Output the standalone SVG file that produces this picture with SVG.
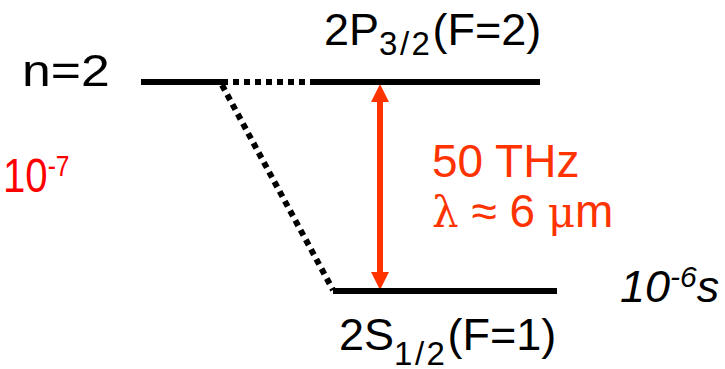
<svg xmlns="http://www.w3.org/2000/svg" width="725" height="369" viewBox="0 0 725 369">
<defs>
<style>
text{font-family:"Liberation Sans",Arial,sans-serif;}
.lvl{stroke:#000;stroke-width:6;fill:none;}
.dot{stroke:#000;stroke-width:6;fill:none;stroke-dasharray:6 5;}
.arr{stroke:#FF3300;stroke-width:6;fill:none;}
.k{fill:#000;font-size:45px;}
.r{fill:#FF0000;font-size:49px;}
.o{fill:#FF3300;font-size:46px;}
.sub{font-size:33px;letter-spacing:2.5px;}
.sup{font-size:30px;}
tspan.greek{font-family:"DejaVu Serif","Liberation Serif",serif;font-size:42px;}
</style>
<marker id="ah" viewBox="0 0 10 10" refX="0" refY="5" markerWidth="3" markerHeight="3" markerUnits="strokeWidth" orient="auto-start-reverse">
<path d="M0,0 L10,5 L0,10 z" fill="#FF3300"/>
</marker>
</defs>
<g id="connectors">
<line class="dot" x1="222" y1="82" x2="316" y2="82"/>
<line class="dot" x1="222" y1="85" x2="333" y2="290"/>
<line class="arr" x1="380" y1="102" x2="380" y2="272" marker-start="url(#ah)" marker-end="url(#ah)"/>
</g>
<g id="level-n2">
<line class="lvl" x1="141" y1="82" x2="222" y2="82"/>
<text class="k" font-size="40" transform="translate(22,86) scale(1.15,1)">n=2</text>
</g>
<g id="level-2P">
<line class="lvl" x1="316" y1="82" x2="540" y2="82"/>
<text class="k" x="324" y="45">2P<tspan class="sub" dy="10">3/2</tspan><tspan dy="-10">(F=2)</tspan></text>
</g>
<g id="level-2S">
<line class="lvl" x1="333" y1="291" x2="557" y2="291"/>
<text class="k" x="339" y="350">2S<tspan class="sub" dy="15">1/2</tspan><tspan dy="-15">(F=1)</tspan></text>
<text class="k" x="620" y="302" font-size="43" font-style="italic">10<tspan class="sup" font-size="28" dy="-15">-6</tspan><tspan dy="15">s</tspan></text>
</g>
<g id="lifetime-2P">
<text class="r" transform="translate(3,192) scale(0.82,1)">10<tspan class="sup" dy="-16">-7</tspan></text>
</g>
<g id="transition-label">
<text class="o" x="432" y="177">50 THz</text>
<text class="o" x="432" y="227"><tspan class="greek">λ</tspan> ≈ 6 <tspan class="greek">μ</tspan>m</text>
</g>
</svg>
